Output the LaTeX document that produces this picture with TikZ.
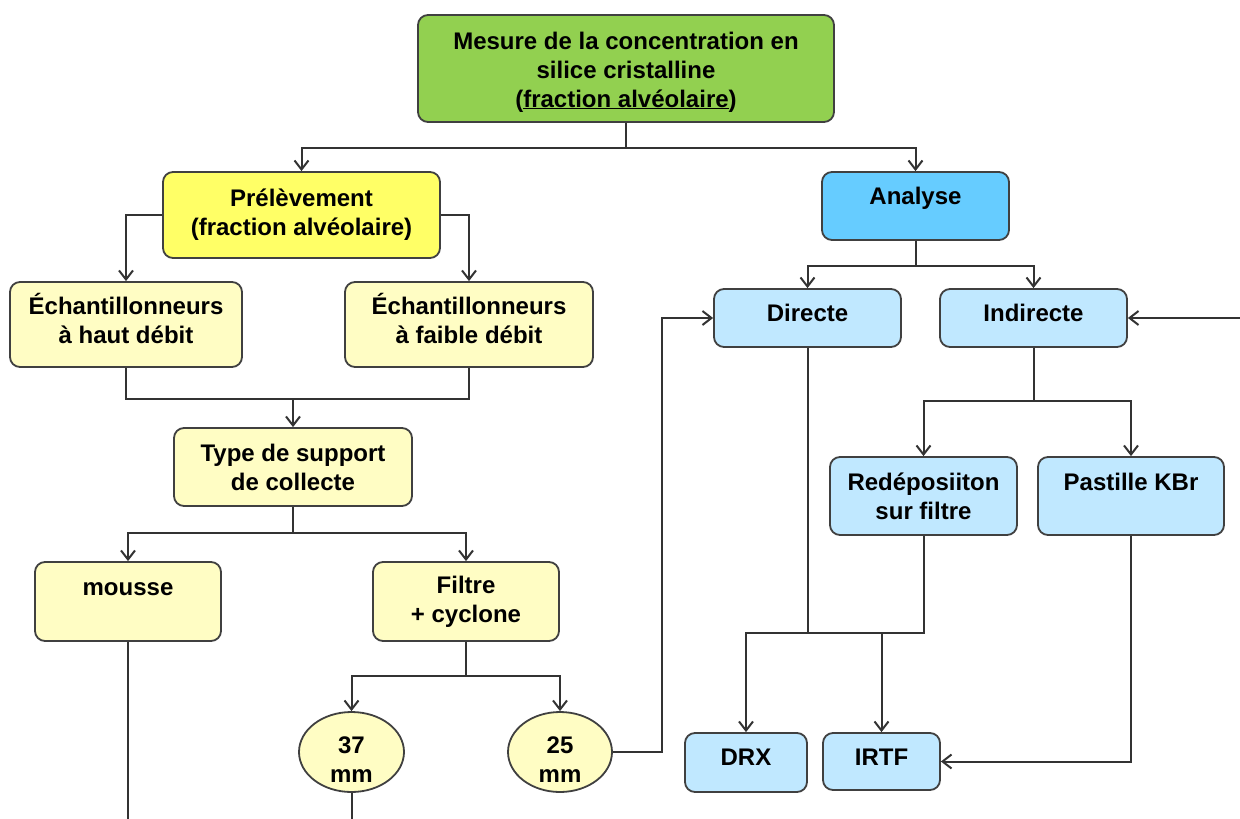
\documentclass[tikz,border=0pt]{standalone}
\usepackage{fontspec}
\setmainfont{Liberation Sans}
\usetikzlibrary{arrows.meta,shapes.geometric}
\definecolor{leafgreen}{HTML}{92D050}
\definecolor{lemon}{HTML}{FFFF66}
\definecolor{cream}{HTML}{FFFDC4}
\definecolor{skyblue}{HTML}{66CCFF}
\definecolor{iceblue}{HTML}{C0E8FF}

\begin{document}
\begin{tikzpicture}[x=1pt,y=-1pt,
    font=\bfseries\fontsize{24}{29}\selectfont,
    bx/.style={draw=black!75, line width=1.8pt, rounded corners=10pt, align=center, inner sep=2pt},
    ov/.style={draw=black!75, line width=1.8pt, ellipse, fill=cream, align=center, inner sep=-3pt},
    sz/.style 2 args={minimum width=#1pt, minimum height=#2pt},
    tx/.style 2 args={text height=#1pt, text depth=#2pt},
    dp/.style={tx={17}{#1}},
    ln/.style={draw=black!80, line width=2pt},
    arr/.style={ln, -{Straight Barb[length=9pt,width=14pt]}}]
  \useasboundingbox (0,0) rectangle (1240,819);
  \coordinate (bot) at (0,819);
  \coordinate (rgt) at (1240,318);

  % top
  \node[bx, fill=leafgreen, sz={416}{107}, tx={83}{6}] (mesure) at (626,68.5)
    {Mesure de la concentration en\\silice cristalline\\(\underline{fraction alvéolaire})};

  % sampling side
  \node[bx, fill=lemon, sz={277}{86}] (prelev) at (301.5,215) {Prélèvement\\(fraction alvéolaire)};
  \node[bx, fill=cream, sz={232}{85}, tx={43}{6}] (echhaut) at (126,324.5) {Échantillonneurs\\à haut débit};
  \node[bx, fill=cream, sz={248}{85}, tx={43}{6}] (echfaible) at (469,324.5) {Échantillonneurs\\à faible débit};
  \node[bx, fill=cream, sz={238}{78}] (type) at (293,467) {Type de support\\de collecte};
  \node[bx, fill=cream, sz={186}{79}, dp=30] (mousse) at (128,601.5) {mousse};
  \node[bx, fill=cream, sz={186}{79}] (filtre) at (466,601.5) {Filtre\\+ cyclone};
  \node[ov, sz={105}{80}, tx={61}{0}] (e37) at (351.5,752) {37\\mm};
  \node[ov, sz={104}{80}, tx={61}{0}] (e25) at (560,752) {25\\mm};

  % analysis side
  \node[bx, fill=skyblue, sz={187}{68}, dp=21] (analyse) at (915.5,206) {Analyse};
  \node[bx, fill=iceblue, sz={187}{58}, dp=10] (directe) at (807.5,318) {Directe};
  \node[bx, fill=iceblue, sz={187}{58}, dp=10] (indirecte) at (1033.5,318) {Indirecte};
  \node[bx, fill=iceblue, sz={187}{78}] (redepo) at (923.5,496) {Redéposiiton\\sur filtre};
  \node[bx, fill=iceblue, sz={186}{78}, dp=29] (pastille) at (1131,496) {Pastille KBr};
  \node[bx, fill=iceblue, sz={122}{59}, dp=12] (drx) at (746,762.5) {DRX};
  \node[bx, fill=iceblue, sz={117}{57}, dp=10] (irtf) at (881.5,761.5) {IRTF};

  % connectors
  \draw[arr] (mesure.south) -- ++(0,25) -| (prelev.north);
  \draw[arr] (mesure.south) -- ++(0,25) -| (analyse.north);

  \draw[arr] (prelev.west) -| (echhaut.north);
  \draw[arr] (prelev.east) -| (echfaible.north);
  \draw[ln] (echhaut.south) -- ++(0,31) coordinate (j1) -| (echfaible.south);
  \draw[arr] (j1 -| type.north) -- (type.north);
  \draw[arr] (type.south) -- ++(0,26) -| (mousse.north);
  \draw[arr] (type.south) -- ++(0,26) -| (filtre.north);
  \draw[ln] (mousse.south) -- (mousse.south |- bot);
  \draw[arr] (filtre.south) -- ++(0,34) -| (e37.north);
  \draw[arr] (filtre.south) -- ++(0,34) -| (e25.north);
  \draw[ln] (e37.south) -- (e37.south |- bot);
  \draw[arr] (e25.east) -- ++(49,0) |- (directe.west);

  \draw[arr] (analyse.south) -- ++(0,25) -| (directe.north);
  \draw[arr] (analyse.south) -- ++(0,25) -| (indirecte.north);
  \draw[arr] (rgt) -- (indirecte.east);
  \draw[arr] (indirecte.south) -- ++(0,53) -| (redepo.north);
  \draw[arr] (indirecte.south) -- ++(0,53) -| (pastille.north);
  \draw[ln] (directe.south) -- ++(0,285) coordinate (j2);
  \draw[arr] (j2) -| (drx.north);
  \draw[arr] (j2) -| (irtf.north);
  \draw[ln] (redepo.south) |- (irtf.north |- j2);
  \draw[arr] (pastille.south) |- (irtf.east);
\end{tikzpicture}
\end{document}
